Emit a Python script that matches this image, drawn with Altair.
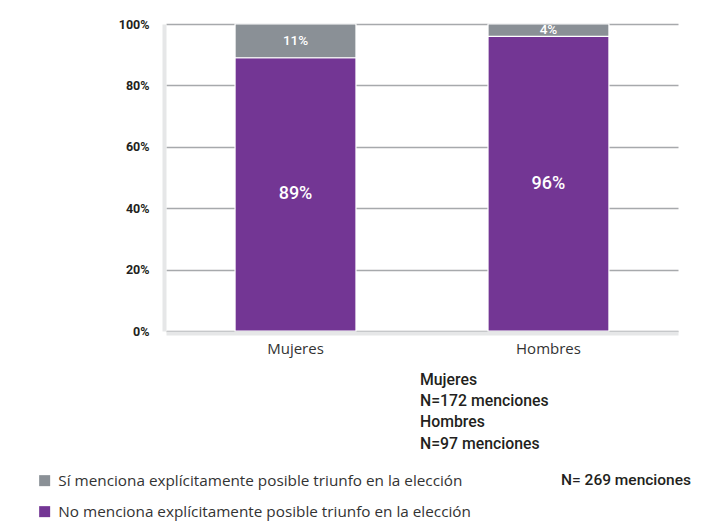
import altair as alt
import pandas as pd

categories = ["Mujeres", "Hombres"]
series = [
    "No menciona explícitamente posible triunfo en la elección",
    "Sí menciona explícitamente posible triunfo en la elección",
]
no_values = [89, 96]
si_values = [11, 4]
y_ticks = [0, 20, 40, 60, 80, 100]
notes = ["Mujeres", "N=172 menciones", "Hombres", "N=97 menciones"]
total_note = "N= 269 menciones"

PURPLE = "#733694"
GRAY = "#8a9096"

rows = []
for i, c in enumerate(categories):
    rows.append({"cat": c, "serie": series[0], "value": no_values[i], "ord": 0,
                 "mid": no_values[i] / 2})
    rows.append({"cat": c, "serie": series[1], "value": si_values[i], "ord": 1,
                 "mid": no_values[i] + si_values[i] / 2})
df = pd.DataFrame(rows)
df["label"] = df["value"].astype(int).astype(str) + "%"

W, H = 521, 307

xscale = alt.Scale(domain=categories, range=[0, 512], paddingInner=0.522, paddingOuter=0.273)
yscale = alt.Scale(domain=[0, 100], nice=False)

base = alt.Chart(df)

bars = base.mark_bar(stroke="white", strokeWidth=1.2).encode(
    x=alt.X("cat:N", scale=xscale, sort=categories,
            axis=alt.Axis(title=None, labelAngle=0, ticks=False, domainColor="#e6e7e8",
                          domainWidth=4, offset=2, labelFont="Open Sans", labelFontSize=15,
                          labelColor="#333333", labelPadding=8, grid=False)),
    y=alt.Y("value:Q", stack="zero", scale=yscale,
            axis=alt.Axis(title=None, values=y_ticks, labelExpr="datum.value + '%'",
                          ticks=False, domainColor="#e6e7e8", domainWidth=4, offset=2,
                          labelFont="Roboto", labelFontWeight="bold", labelFontSize=12.5,
                          labelColor="#231f20", labelPadding=15, gridColor="#a7a9ac",
                          gridWidth=1.3)),
    color=alt.Color("serie:N", scale=alt.Scale(domain=[series[1], series[0]], range=[GRAY, PURPLE]),
                    legend=alt.Legend(title=None, orient="none", legendX=-129, legendY=449,
                                      symbolType="square", symbolSize=121, symbolStrokeWidth=0,
                                      labelFont="Open Sans", labelFontSize=15.3, labelColor="#333333",
                                      rowPadding=15, labelOffset=6, padding=0, labelLimit=600)),
    order=alt.Order("ord:Q"),
)

labels = base.mark_text(color="white", font="Roboto", fontWeight=500, baseline="middle").encode(
    x=alt.X("cat:N", scale=xscale, sort=categories),
    y=alt.Y("mid:Q", scale=yscale),
    text="label:N",
    size=alt.condition("datum.value > 50", alt.value(18), alt.value(13.5)),
)

one = alt.Data(values=[{"a": 1}])
note_layers = []
note_y = [356, 377, 398, 420]
for t, yy in zip(notes, note_y):
    note_layers.append(
        alt.Chart(one).mark_text(text=t, align="left", baseline="middle", font="Roboto",
                                 fontWeight=500, fontSize=15.8, color="#231f20")
        .encode(x=alt.value(254), y=alt.value(yy))
    )
total_layer = alt.Chart(one).mark_text(text=total_note, align="left", baseline="middle",
                                       font="Roboto", fontWeight=500, fontSize=15.5,
                                       color="#231f20").encode(x=alt.value(395), y=alt.value(456))

chart = alt.layer(bars, labels, *note_layers, total_layer).properties(
    width=W, height=H,
    autosize=alt.AutoSizeParams(type="none"),
    padding={"left": 158, "top": 16, "right": 12, "bottom": 192},
    background="white",
).configure_view(stroke=None)

chart.save("out.html", embed_options={"renderer": "svg", "actions": False})
